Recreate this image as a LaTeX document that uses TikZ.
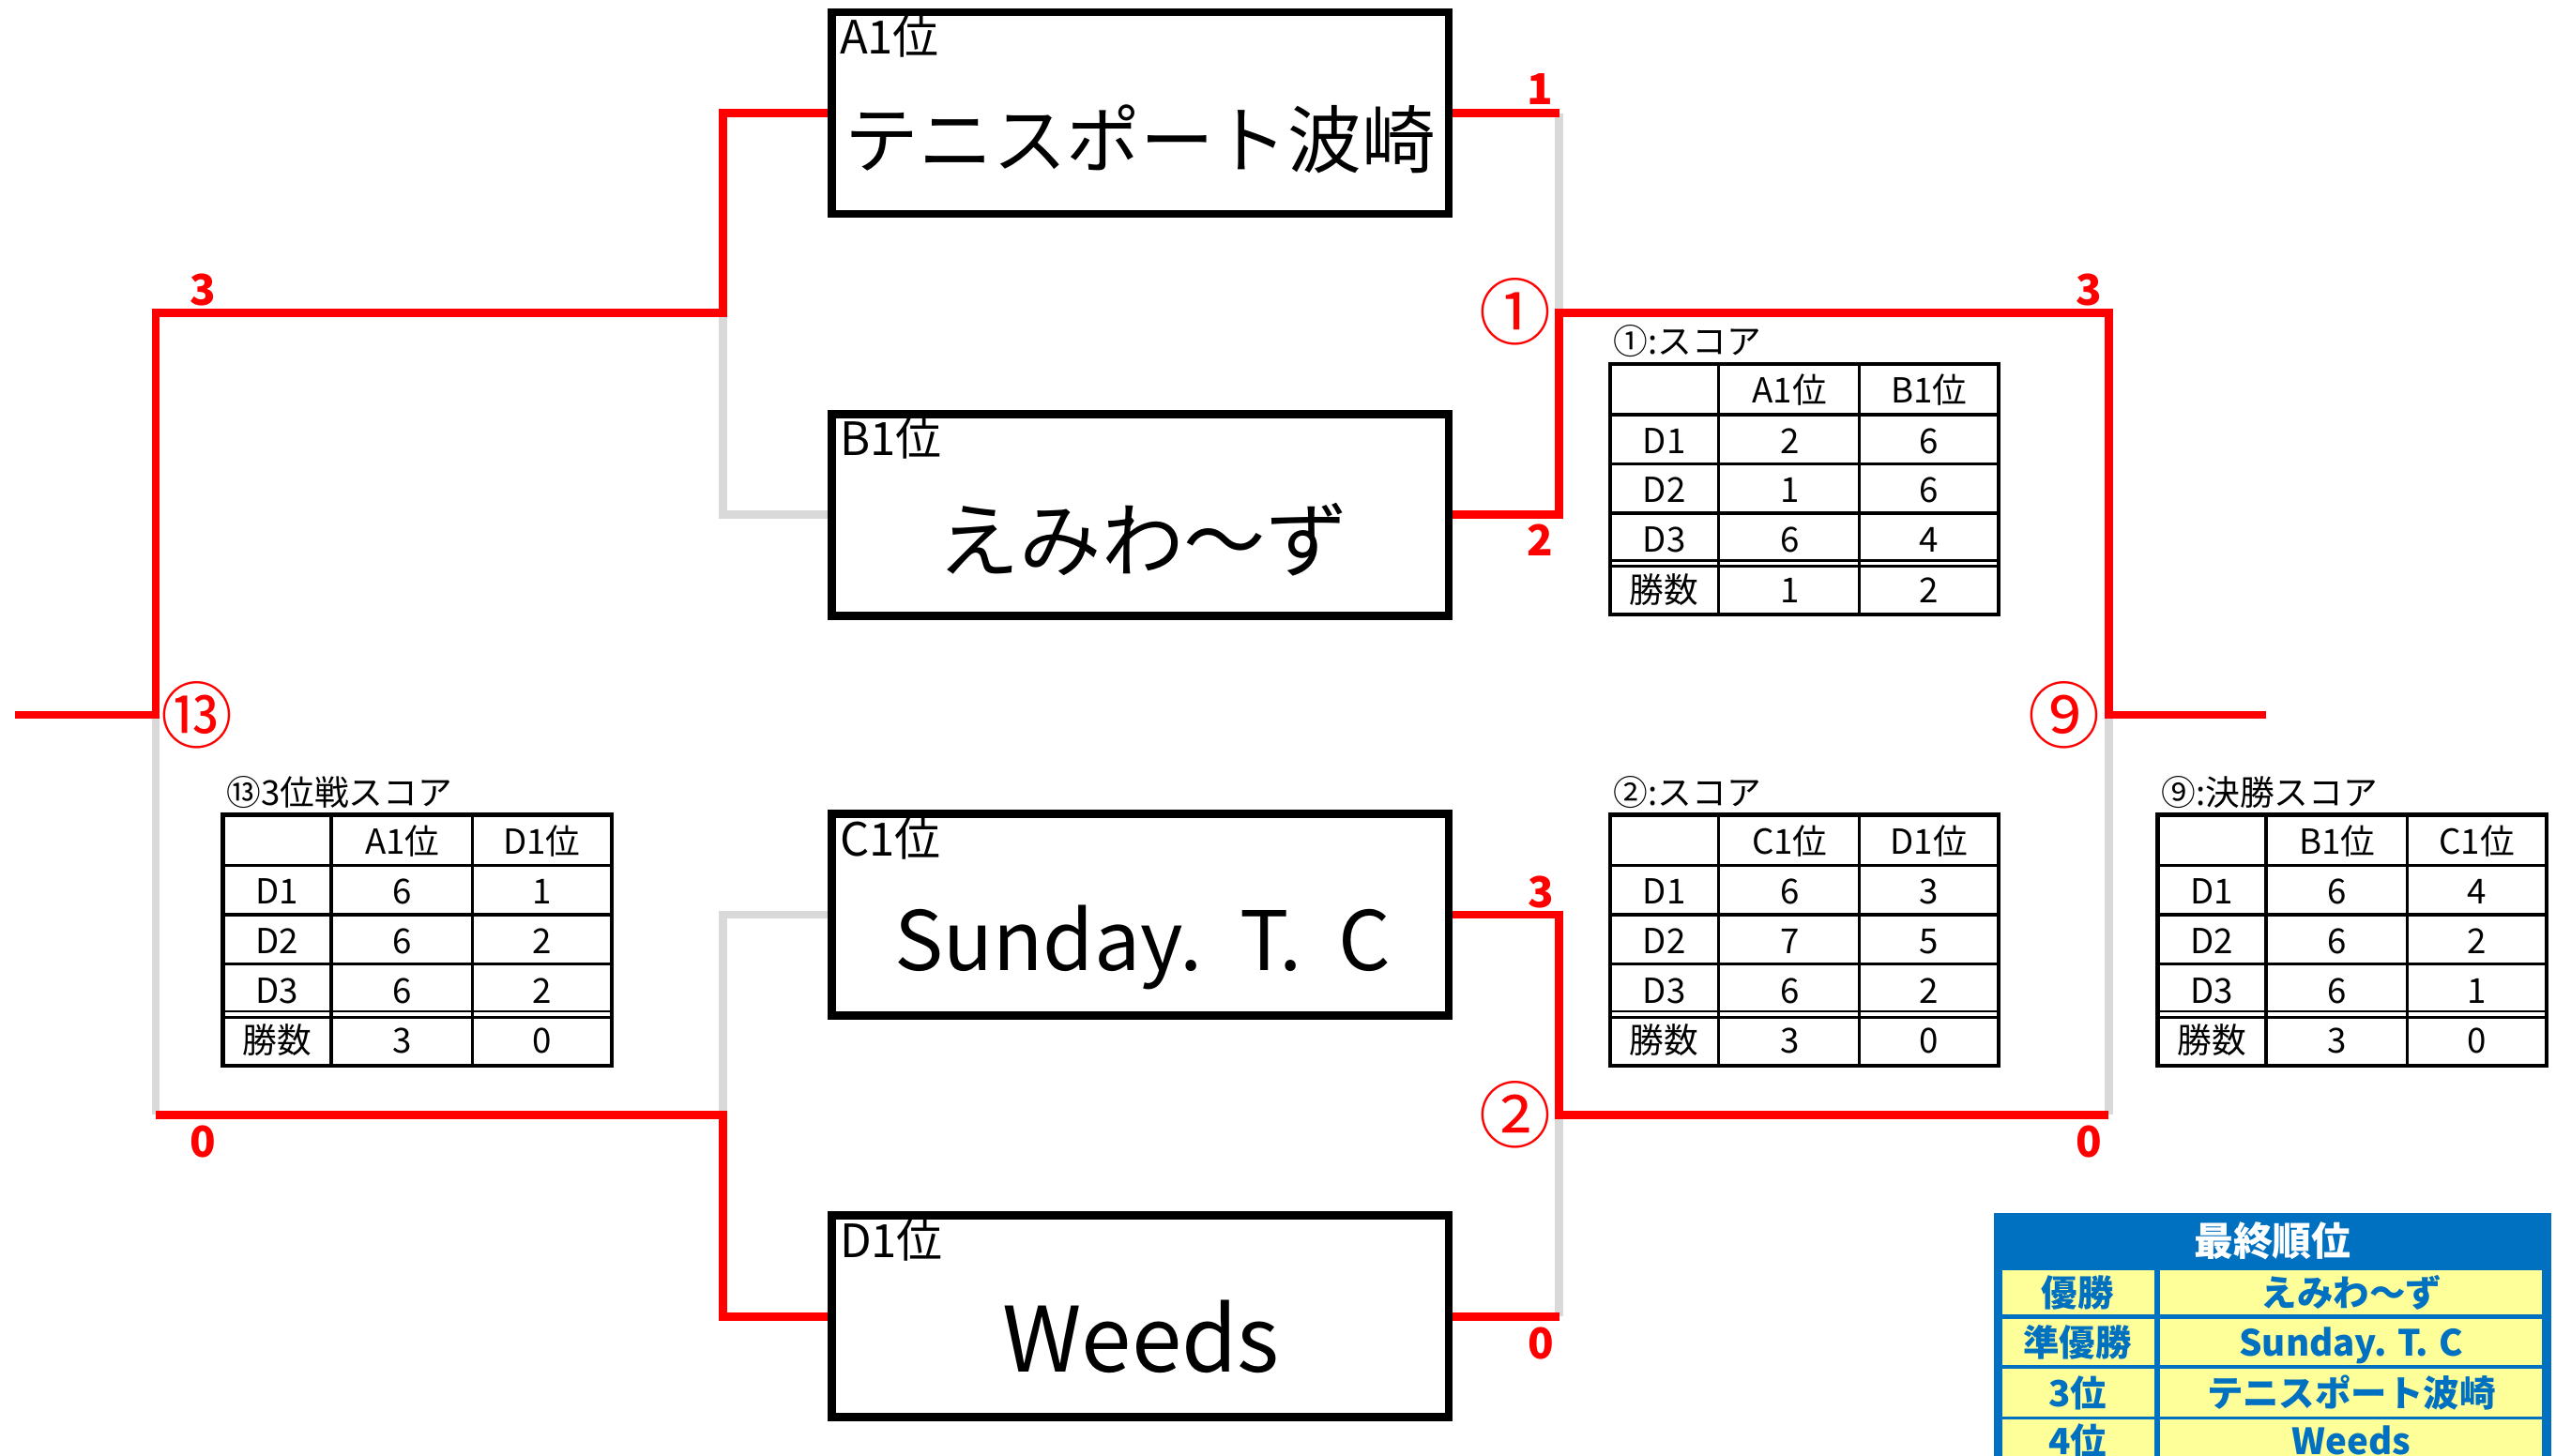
\documentclass[tikz,border=0pt]{standalone}
\usepackage{fontspec}
\setmainfont{Noto Sans CJK JP}
\definecolor{wred}{HTML}{FF0000}
\definecolor{lgray}{HTML}{D9D9D9}
\definecolor{finblue}{HTML}{0070C0}
\definecolor{finyellow}{HTML}{FFFF99}
\tikzset{
  team/.style={draw=black, line width=5pt, minimum width=376pt, minimum height=123pt, inner sep=0pt},
  slot/.style={anchor=base west, inner sep=0pt, font=\fontsize{28}{28}\selectfont},
  tname/.style={anchor=base, inner sep=0pt},
  win/.style={draw=wred, line width=5pt},
  lose/.style={draw=lgray, line width=5pt},
  score/.style={anchor=base, inner sep=0pt, text=wred, font=\bfseries\fontsize{26}{26}\selectfont},
  match/.style={inner sep=0pt, text=wred, font=\fontsize{44}{44}\selectfont},
  tabtitle/.style={anchor=base west, inner sep=0pt, font=\fontsize{21}{21}\selectfont},
  cell/.style={anchor=base, inner sep=0pt, font=\fontsize{21}{21}\selectfont},
  tabouter/.style={draw=black, line width=2.5pt},
  tabinner/.style={draw=black, line width=2pt},
  tabdbl/.style={draw=black, line width=1.5pt},
  finhead/.style={inner sep=0pt, anchor=base, text=white, font=\bfseries\fontsize{24}{24}\selectfont},
  fincell/.style={anchor=base, inner sep=0pt, text=finblue, font=\bfseries\fontsize{22}{22}\selectfont}
}
\newcommand\scoretable[5]{%
  \begin{scope}[shift={(#2,#3)}]
    \node[tabtitle] (#1-t) at (2,-6) {#4};
    \foreach \yy in {31,61,91} {\draw[tabinner] (0,\yy) -- (237,\yy);}
    \draw[tabdbl] (0,120) -- (237,120) (0,123.5) -- (237,123.5);
    \draw[tabinner] (66,0) -- (66,153) (152,0) -- (152,153);
    \draw[tabouter] (0,0) rectangle (237,153);
    \foreach \a/\b/\c/\yb [count=\i] in {#5} {
      \node[cell] (#1-a\i) at (33,\yb) {\a};
      \node[cell] (#1-b\i) at (109.5,\yb) {\b};
      \node[cell] (#1-c\i) at (194.5,\yb) {\c};
    }
  \end{scope}}
\begin{document}
\begin{tikzpicture}[x=1pt,y=-1pt]
\useasboundingbox (0,0) rectangle (1568,888);

% team boxes
\node[team] (A) at (695.5,69) {};
\node[team] (B) at (695.5,314) {};
\node[team] (C) at (695.5,558) {};
\node[team] (D) at (695.5,803) {};
\node[slot] (Al) at (512,33) {A1位};
\node[slot] (Bl) at (512,278) {B1位};
\node[slot] (Cl) at (512,522) {C1位};
\node[slot] (Dl) at (512,767) {D1位};
\node[tname, font=\fontsize{45}{45}\selectfont] (An) at (695.5,102) {テニスポート波崎};
\node[tname, font=\fontsize{50}{50}\selectfont] (Bn) at (697,348) {えみわ〜ず};
\node[tname, font=\fontsize{50}{50}\selectfont] (Cn) at (697,592) {Sunday.\hspace{0.45em}T.\hspace{0.45em}C};
\node[tname, font=\fontsize{55}{55}\selectfont] (Dn) at (696,837) {Weeds};

% junctions
\coordinate (L1) at (441,191);
\coordinate (L2) at (441,680);
\coordinate (L0) at (95,436);
\coordinate (LE) at (9,436);
\coordinate (R1) at (951,191);
\coordinate (R2) at (951,680);
\coordinate (R0) at (1286,436);
\coordinate (RE) at (1382,436);

% losing paths (gray)
\draw[lose] (B.west) -| (L1);
\draw[lose] (C.west) -| (L2);
\draw[lose] (L2 -| L0) -- (L0);
\draw[lose] (A.east -| R1) -- (R1);
\draw[lose] (R2) -- (R2 |- D.east);
\draw[lose] (R0) -- (R2 -| R0);

% winning paths (red)
\draw[win] (A.west) -| (L1) -- (L1 -| L0) -- (L0) -- (LE);
\draw[win] (D.west) -| (L2) -- (L2 -| L0);
\draw[win] (A.east) -- (A.east -| R1);
\draw[win] (B.east) -| (R1) -- (R1 -| R0) -- (R0) -- (RE);
\draw[win] (C.east) -| (R2) -- (R2 -| R0);
\draw[win] (D.east) -- (R2 |- D.east);

% scores
\node[score] (s1) at (939,64) {1};
\node[score] (s2) at (939,339) {2};
\node[score] (s3) at (940,553.5) {3};
\node[score] (s4) at (940,829) {0};
\node[score] (s5) at (124,186.5) {3};
\node[score] (s6) at (124,706) {0};
\node[score] (s7) at (1274,186.5) {3};
\node[score] (s8) at (1274,706) {0};

% match numbers
\node[match] (m1) at (924,190) {①};
\node[match] (m2) at (924,680) {②};
\node[match] (m9) at (1259,436) {⑨};
\node[match] (m13) at (120,436) {⑬};

% score tables
\scoretable{t1}{982}{222}{①:スコア}{{}/A1位/B1位/24, D1/2/6/54.5, D2/1/6/84.5, D3/6/4/115, 勝数/1/2/145.5}
\scoretable{t2}{982}{497}{②:スコア}{{}/C1位/D1位/24, D1/6/3/54.5, D2/7/5/84.5, D3/6/2/115, 勝数/3/0/145.5}
\scoretable{t9}{1316}{497}{⑨:決勝スコア}{{}/B1位/C1位/24, D1/6/4/54.5, D2/6/2/84.5, D3/6/1/115, 勝数/3/0/145.5}
\scoretable{t13}{136}{497}{⑬3位戦スコア}{{}/A1位/D1位/24, D1/6/1/54.5, D2/6/2/84.5, D3/6/2/115, 勝数/3/0/145.5}

% final ranking
\fill[finblue] (1216,740) rectangle (1556,895);
\foreach \ya/\yb in {775/802, 804.5/832.5, 835/864, 866/895} {
  \fill[finyellow] (1221,\ya) rectangle (1314,\yb);
  \fill[finyellow] (1317.5,\ya) rectangle (1550,\yb);
}
\node[finhead] (fh) at (1386,766) {最終順位};
\node[fincell] (f1a) at (1267,797) {優勝};
\node[fincell] (f1b) at (1434,797) {えみわ〜ず};
\node[fincell] (f2a) at (1267,827) {準優勝};
\node[fincell] (f2b) at (1434,827) {Sunday.\hspace{0.3em}T.\hspace{0.3em}C};
\node[fincell] (f3a) at (1267,858) {3位};
\node[fincell] (f3b) at (1434,858) {テニスポート波崎};
\node[fincell] (f4a) at (1267,887.5) {4位};
\node[fincell] (f4b) at (1434,887.5) {Weeds};
\end{tikzpicture}
\end{document}
